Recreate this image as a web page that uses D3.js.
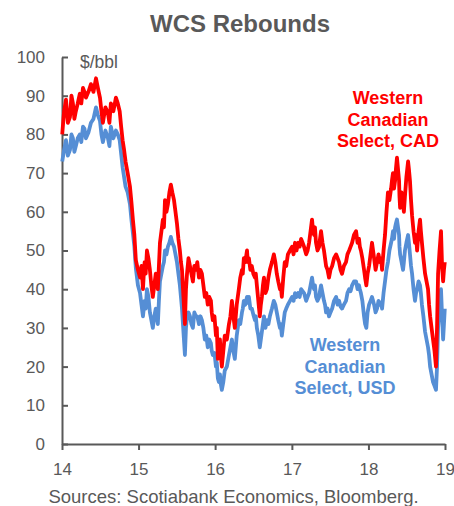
<!DOCTYPE html>
<html>
<head>
<meta charset="utf-8">
<script src="https://cdn.jsdelivr.net/npm/d3@7"></script>
<style>
  body { margin: 0; background: #fff; }
  svg { display: block; font-family: 'Liberation Sans', Arial, sans-serif; }
</style>
</head>
<body>
<svg id="canvas"></svg>
<script>
let dates = [
  // 2014
  '2014-01-02','2014-01-11','2014-01-20','2014-01-29','2014-02-08','2014-02-15','2014-02-22','2014-03-01','2014-03-08','2014-03-17',
  '2014-03-27','2014-04-03','2014-04-11','2014-04-18','2014-04-25','2014-05-07','2014-05-19','2014-05-31','2014-06-12','2014-06-21',
  '2014-07-01','2014-07-08','2014-07-15','2014-07-27','2014-08-08','2014-08-15','2014-08-22','2014-09-03','2014-09-15','2014-09-24',
  '2014-10-03','2014-10-10','2014-10-17','2014-10-24','2014-10-31','2014-11-10','2014-11-21','2014-11-28','2014-12-05','2014-12-12',
  '2014-12-19','2014-12-29',
  // 2015
  '2015-01-08','2015-01-15','2015-01-22','2015-01-26','2015-01-30','2015-02-04','2015-02-10','2015-02-17','2015-02-24','2015-03-03',
  '2015-03-10','2015-03-17','2015-03-24','2015-03-29','2015-04-03','2015-04-08','2015-04-13','2015-04-20','2015-04-27','2015-05-02',
  '2015-05-07','2015-05-14','2015-05-21','2015-05-28','2015-06-04','2015-06-11','2015-06-19','2015-06-26','2015-07-03','2015-07-10',
  '2015-07-17','2015-07-22','2015-07-27','2015-08-03','2015-08-10','2015-08-15','2015-08-20','2015-08-27','2015-09-03','2015-09-10',
  '2015-09-17','2015-09-24','2015-10-01','2015-10-08','2015-10-16','2015-10-23','2015-10-30','2015-11-06','2015-11-13','2015-11-20',
  '2015-11-27','2015-12-04','2015-12-12','2015-12-16','2015-12-21','2015-12-29',
  // 2016
  '2016-01-05','2016-01-09','2016-01-14','2016-01-19','2016-01-24','2016-01-28','2016-02-02','2016-02-09','2016-02-16','2016-02-26',
  '2016-03-07','2016-03-14','2016-03-21','2016-03-28','2016-04-04','2016-04-13','2016-04-23','2016-04-30','2016-05-08','2016-05-12',
  '2016-05-17','2016-05-24','2016-06-01','2016-06-05','2016-06-10','2016-06-17','2016-06-24','2016-07-01','2016-07-09','2016-07-13',
  '2016-07-18','2016-07-25','2016-08-01','2016-08-06','2016-08-11','2016-08-16','2016-08-21','2016-08-28','2016-09-04','2016-09-11',
  '2016-09-18','2016-09-28','2016-10-07','2016-10-14','2016-10-21','2016-10-28','2016-11-05','2016-11-09','2016-11-14','2016-11-21',
  '2016-11-28','2016-12-05','2016-12-13','2016-12-23',
  // 2017
  '2017-01-02','2017-01-09','2017-01-16','2017-01-23','2017-01-31','2017-02-07','2017-02-14','2017-02-21','2017-02-28','2017-03-05',
  '2017-03-10','2017-03-17','2017-03-24','2017-03-31','2017-04-07','2017-04-12','2017-04-17','2017-04-21','2017-04-26','2017-05-03',
  '2017-05-11','2017-05-15','2017-05-20','2017-05-27','2017-06-03','2017-06-08','2017-06-13','2017-06-20','2017-06-27','2017-07-04',
  '2017-07-12','2017-07-21','2017-07-31','2017-08-07','2017-08-14','2017-08-21','2017-08-28','2017-09-06','2017-09-16','2017-09-23',
  '2017-10-01','2017-10-08','2017-10-15','2017-10-24','2017-11-03','2017-11-10','2017-11-17','2017-11-21','2017-11-26','2017-12-03',
  '2017-12-11','2017-12-16','2017-12-22','2017-12-28',
  // 2018
  '2018-01-04','2018-01-11','2018-01-18','2018-01-23','2018-01-28','2018-02-04','2018-02-11','2018-02-18','2018-02-25','2018-03-02',
  '2018-03-07','2018-03-14','2018-03-21','2018-03-28','2018-04-04','2018-04-11','2018-04-19','2018-04-23','2018-04-28','2018-05-03',
  '2018-05-08','2018-05-12','2018-05-17','2018-05-22','2018-05-27','2018-05-29','2018-06-01','2018-06-08','2018-06-15','2018-06-19',
  '2018-06-24','2018-07-01','2018-07-09','2018-07-13','2018-07-18','2018-07-23','2018-07-28','2018-08-04','2018-08-11','2018-08-16',
  '2018-08-21','2018-08-28','2018-09-04','2018-09-08','2018-09-13','2018-09-20','2018-09-28','2018-10-05','2018-10-12','2018-10-17',
  '2018-10-22','2018-10-29','2018-11-05','2018-11-12','2018-11-19','2018-11-24','2018-11-29','2018-12-06','2018-12-13','2018-12-18',
  '2018-12-23','2018-12-27','2018-12-31'
]

let wcsCad = [
  // 2014
  80, 86, 89, 83, 84.5, 90, 88, 84, 86, 88,
  90.5, 88, 92, 91, 89.5, 91, 93, 91, 94.5, 92,
  89.5, 86, 83, 87, 85.5, 83, 88, 86, 89.5, 88,
  86, 82, 78.5, 76, 73, 70, 66.5, 62.5, 58, 54,
  47.5, 45,
  // 2015
  43, 46, 40, 44, 47, 44, 50, 48, 45, 41,
  38, 41, 44, 42, 40, 46, 52, 55, 58, 56,
  63, 60, 62, 65, 67, 65, 63, 60, 57, 53,
  50, 47, 45, 38, 31, 40, 44, 48, 46, 44,
  42, 46, 45, 47, 43, 45, 44, 41, 38, 39,
  36, 38, 37, 34, 32, 33,
  // 2016
  28, 30, 22, 24, 27, 23, 20, 24, 28, 27,
  31, 33, 37, 33, 30, 36, 40, 43, 45, 44,
  48, 47, 50, 47, 48, 45, 46, 44, 43, 44,
  41, 37, 33, 36, 38, 41, 43, 39, 40, 43,
  45, 47, 49, 47, 44, 42, 40, 41, 38, 43,
  47, 46, 49, 50,
  // 2017
  51, 49, 52, 50, 52, 51, 53, 52, 51, 50,
  49, 50, 52, 55, 58, 55, 54, 56, 52, 50,
  51, 53, 55, 52, 50, 48, 46, 45, 43, 45,
  46, 48, 49, 48, 47, 45, 44, 46, 47, 49,
  50, 51, 52, 54, 55, 52, 53, 51, 50, 48,
  45, 43, 41, 44,
  // 2018
  46, 49, 52, 50, 48, 45, 47, 49, 47, 48,
  45, 50, 54, 60, 65, 63, 66, 68, 70, 66,
  68, 71, 74, 71, 68, 64, 61, 65, 62, 60,
  64, 69, 73, 71, 68, 63, 59, 55, 52, 54,
  50, 55, 58, 55, 52, 48, 44, 42, 40, 36,
  33, 30, 27, 24, 20, 30, 44, 50, 55, 46,
  42, 45, 47
]

let wcsUsd = [
  // 2014
  73, 76, 78.5, 74.5, 76, 80, 79, 75.5, 77, 79,
  80, 78, 82, 81.5, 79, 80.5, 83, 84, 87, 85,
  83.5, 80, 78, 81, 79, 77, 82, 79, 81, 80,
  78.5, 75, 71.5, 69, 66.5, 65, 62, 58, 54.5, 51,
  45.5, 41,
  // 2015
  39, 36, 33, 35, 37, 35, 40, 38, 34, 32,
  30, 33, 35, 33, 31, 37, 42, 44, 46, 47,
  50, 49, 51, 52, 53.5, 52, 51, 49, 47, 44,
  41, 38, 35, 29, 23, 30, 33, 34, 33, 31,
  30, 34, 33, 33, 31, 33, 32, 30, 27, 28,
  25, 27, 26, 24, 23, 23.5,
  // 2016
  20, 21, 17, 16, 18, 15.5, 14, 16, 19, 20,
  23, 25, 27, 24, 22, 28, 32, 31, 34, 35,
  37, 36, 38, 36.5, 38, 35, 35, 33.5, 32, 33,
  30, 28, 25, 27, 29, 31, 33, 30, 32, 31,
  33, 35, 37, 36, 34, 32, 30, 31, 28, 31,
  34, 35, 36, 37,
  // 2017
  38, 37, 39, 38, 39, 38, 40, 39.5, 39, 38,
  37, 38, 39, 41, 43, 41, 40, 41, 38, 37,
  38, 39.5, 41, 39, 37, 36, 34, 35, 33, 34,
  35, 37, 38, 36, 37, 35.5, 35, 36, 37, 39,
  40, 39.5, 41, 42, 42, 40, 41, 40, 39, 37,
  33, 31, 30, 34,
  // 2018
  36, 37, 38, 37, 36, 34, 35, 37, 36, 36.5,
  35, 39, 42, 45, 47, 50, 52, 53, 55, 53,
  56, 57, 58, 56, 54, 51, 49, 47, 45, 47,
  50, 52, 54, 52, 49, 46, 44, 40, 37, 39,
  40, 42, 41, 39, 36, 33, 29, 27, 25, 23,
  20, 18, 16, 15, 14, 20, 30, 36, 40, 33,
  27, 31, 35
]

let yTicks = [0, 10, 20, 30, 40, 50, 60, 70, 80, 90, 100]
let xYears = ['2014', '2015', '2016', '2017', '2018', '2019']

let width = 454
let height = 506
let padLeft = 62
let padRight = 445
let padTop = 57
let padBottom = 444

let grey = '#595959'
let red = '#ff0000'
let blue = '#558ed5'

let parse = d3.timeParse('%Y-%m-%d')
let series = dates.map((d, i) => ({ date: parse(d), cad: wcsCad[i], usd: wcsUsd[i] }))
let yearDates = xYears.map((y) => d3.timeParse('%Y')(y))

let canvas = d3.select('#canvas')
canvas.attr('width', width)
      .attr('height', height)

let xScale = d3.scaleTime()
               .domain([yearDates[0], yearDates[yearDates.length - 1]])
               .range([padLeft, padRight])

let yScale = d3.scaleLinear()
               .domain([0, 100])
               .range([padBottom, padTop])

// title
canvas.append('text')
      .attr('x', 240)
      .attr('y', 32)
      .attr('text-anchor', 'middle')
      .attr('font-size', 24)
      .attr('font-weight', 'bold')
      .attr('fill', grey)
      .text('WCS Rebounds')

// axes
let xAxis = d3.axisBottom(xScale)
              .tickValues(yearDates)
              .tickFormat(d3.timeFormat('%y'))
              .tickSize(6)
              .tickSizeOuter(0)
              .tickPadding(13)

let yAxis = d3.axisLeft(yScale)
              .tickValues(yTicks)
              .tickSize(-6)
              .tickSizeOuter(0)
              .tickPadding(17)

let gx = canvas.append('g')
               .attr('transform', 'translate(0,' + padBottom + ')')
               .call(xAxis)

let gy = canvas.append('g')
               .attr('transform', 'translate(' + padLeft + ',0)')
               .call(yAxis)

;[gx, gy].forEach((g) => {
  g.select('.domain').attr('stroke', grey).attr('stroke-width', 2)
  g.selectAll('.tick line').attr('stroke', grey).attr('stroke-width', 2)
  g.selectAll('.tick text')
   .attr('fill', grey)
   .attr('font-size', 17)
   .attr('font-family', "'Liberation Sans', Arial, sans-serif")
})

canvas.append('text')
      .attr('x', 80)
      .attr('y', 68)
      .attr('font-size', 17.5)
      .attr('fill', grey)
      .text('$/bbl')

// lines
let line = (key) => d3.line()
                      .x((d) => xScale(d.date))
                      .y((d) => yScale(d[key]))

canvas.append('path')
      .datum(series)
      .attr('fill', 'none')
      .attr('stroke', blue)
      .attr('stroke-width', 3.8)
      .attr('stroke-linejoin', 'round')
      .attr('d', line('usd'))

canvas.append('path')
      .datum(series)
      .attr('fill', 'none')
      .attr('stroke', red)
      .attr('stroke-width', 3.8)
      .attr('stroke-linejoin', 'round')
      .attr('d', line('cad'))

// series labels
let drawLabel = (lines, x, y, color) => {
  let t = canvas.append('text')
                .attr('text-anchor', 'middle')
                .attr('font-size', 18)
                .attr('font-weight', 'bold')
                .attr('fill', color)
  lines.forEach((s, i) => {
    t.append('tspan')
     .attr('x', x)
     .attr('y', y + i * 21.5)
     .text(s)
  })
}

drawLabel(['Western', 'Canadian', 'Select, CAD'], 388, 104, red)
drawLabel(['Western', 'Canadian', 'Select, USD'], 345, 351, blue)

// source
canvas.append('text')
      .attr('x', 233.5)
      .attr('y', 503)
      .attr('text-anchor', 'middle')
      .attr('font-size', 18.5)
      .attr('fill', grey)
      .text('Sources: Scotiabank Economics, Bloomberg.')
</script>
</body>
</html>
